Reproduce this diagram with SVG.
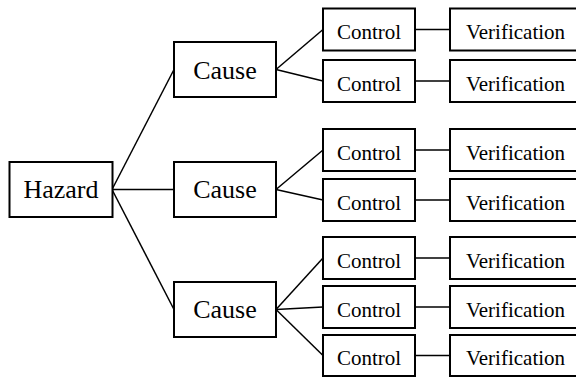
<svg xmlns="http://www.w3.org/2000/svg" width="576" height="377" viewBox="0 0 576 377">
<style>
rect{fill:#fff;stroke:#000;stroke-width:2}
.c line{stroke:#000;stroke-width:1.5}
text{font-family:"Liberation Serif","Times New Roman",serif;fill:#000;text-anchor:middle}
.big{font-size:26px}
.sm{font-size:21px}
</style>
<rect x="0" y="0" width="576" height="377" style="stroke:none"/>
<g class="c" id="connectors">
<line x1="112" y1="189.5" x2="174" y2="69.5"/>
<line x1="112" y1="189.5" x2="174" y2="189.5"/>
<line x1="112" y1="189.5" x2="174" y2="309.5"/>
<line x1="276" y1="69.5" x2="323" y2="29.5"/>
<line x1="276" y1="69.5" x2="323" y2="81"/>
<line x1="276" y1="189.5" x2="323" y2="150"/>
<line x1="276" y1="189.5" x2="323" y2="200"/>
<line x1="276" y1="309.5" x2="323" y2="258"/>
<line x1="276" y1="309.5" x2="323" y2="307"/>
<line x1="276" y1="309.5" x2="323" y2="355.5"/>
<line x1="415" y1="29.5" x2="450" y2="29.5"/>
<line x1="415" y1="81" x2="450" y2="81"/>
<line x1="415" y1="150" x2="450" y2="150"/>
<line x1="415" y1="200" x2="450" y2="200"/>
<line x1="415" y1="258" x2="450" y2="258"/>
<line x1="415" y1="307" x2="450" y2="307"/>
<line x1="415" y1="355.5" x2="450" y2="355.5"/>
</g>
<g id="hazard"><rect x="9.5" y="162" width="103" height="55"/><text class="big" x="61" y="198">Hazard</text></g>
<g id="cause1"><rect x="174" y="42" width="102" height="55"/><text class="big" x="225" y="78.5">Cause</text></g>
<g id="cause2"><rect x="174" y="162" width="102" height="55"/><text class="big" x="225" y="198">Cause</text></g>
<g id="cause3"><rect x="174" y="282" width="102" height="55"/><text class="big" x="225" y="318">Cause</text></g>
<g id="control1"><rect x="323" y="8.5" width="92" height="42"/><text class="sm" x="369" y="39.3">Control</text></g>
<g id="control2"><rect x="323" y="60" width="92" height="42"/><text class="sm" x="369" y="90.5">Control</text></g>
<g id="control3"><rect x="323" y="129" width="92" height="42"/><text class="sm" x="369" y="159.5">Control</text></g>
<g id="control4"><rect x="323" y="179" width="92" height="42"/><text class="sm" x="369" y="209.5">Control</text></g>
<g id="control5"><rect x="323" y="237" width="92" height="42"/><text class="sm" x="369" y="267.5">Control</text></g>
<g id="control6"><rect x="323" y="286" width="92" height="42"/><text class="sm" x="369" y="316.5">Control</text></g>
<g id="control7"><rect x="323" y="335" width="92" height="41"/><text class="sm" x="369" y="365">Control</text></g>
<g id="verification1"><rect x="450" y="8.5" width="135" height="42"/><text class="sm" x="515.5" y="39.3">Verification</text></g>
<g id="verification2"><rect x="450" y="60" width="135" height="42"/><text class="sm" x="515.5" y="90.5">Verification</text></g>
<g id="verification3"><rect x="450" y="129" width="135" height="42"/><text class="sm" x="515.5" y="159.5">Verification</text></g>
<g id="verification4"><rect x="450" y="179" width="135" height="42"/><text class="sm" x="515.5" y="209.5">Verification</text></g>
<g id="verification5"><rect x="450" y="237" width="135" height="42"/><text class="sm" x="515.5" y="267.5">Verification</text></g>
<g id="verification6"><rect x="450" y="286" width="135" height="42"/><text class="sm" x="515.5" y="316.5">Verification</text></g>
<g id="verification7"><rect x="450" y="335" width="135" height="41"/><text class="sm" x="515.5" y="365">Verification</text></g>
</svg>
